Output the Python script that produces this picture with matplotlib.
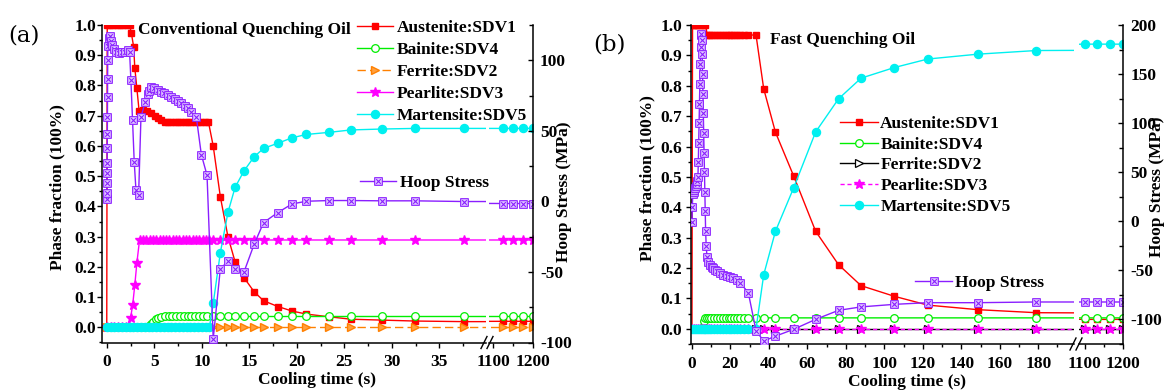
import numpy as np
import matplotlib
matplotlib.use("Agg")
import matplotlib.pyplot as plt
from matplotlib.path import Path
from matplotlib.lines import Line2D
from matplotlib.ticker import MultipleLocator, FixedLocator

plt.rcParams['font.family'] = ['Liberation Serif', 'DejaVu Serif']
plt.rcParams['font.weight'] = 'bold'
plt.rcParams['axes.labelweight'] = 'bold'
plt.rcParams['font.size'] = 12.5
plt.rcParams['axes.unicode_minus'] = False

# ===================== DATA: panel (a) Conventional Quenching Oil =====================
ta_tail = [11.2, 11.95, 12.75, 13.5, 14.45, 15.5, 16.5, 18.0, 19.5, 21.0,
           23.4, 25.7, 29.0, 32.4, 37.6, 1125, 1150, 1175, 1200]
ta_grid = [0.0, 0.4, 0.8, 1.2, 1.6, 2.0, 2.4, 2.8, 3.2, 3.6, 4.0, 4.4, 4.8, 5.2,
           5.6, 6.0, 6.4, 6.8, 7.2, 7.6, 8.0, 8.4, 8.8, 9.2, 9.6, 10.0, 10.4, 10.8]

aus_a_t = [0.0, 0.05, 0.35, 0.7, 1.05, 1.4, 1.75, 2.1, 2.4, 2.58, 2.83, 2.95, 3.17,
           3.4, 3.8, 4.25, 4.7, 5.05, 5.4, 5.75, 6.1, 6.45, 6.8, 7.15, 7.5, 7.85,
           8.2, 8.55, 8.9, 9.25, 9.6, 9.95, 10.3, 10.7]
aus_a_head = [0.0, 1.0, 1.0, 1.0, 1.0, 1.0, 1.0, 1.0, 1.0, 0.975, 0.928, 0.859, 0.79,
              0.717, 0.719, 0.716, 0.708, 0.699, 0.691, 0.686, 0.68, 0.679, 0.679, 0.679,
              0.679, 0.679, 0.679, 0.679, 0.679, 0.679, 0.679, 0.679, 0.679, 0.679]
aus_a_tail = [0.60, 0.432, 0.30, 0.217, 0.164, 0.118, 0.088, 0.069, 0.054, 0.044,
              0.035, 0.027, 0.024, 0.021, 0.019, 0.02, 0.02, 0.02, 0.02]

bai_a_t = [0.0, 0.45, 0.9, 1.35, 1.8, 2.25, 2.7, 3.15, 3.6, 4.05, 4.4, 4.65, 4.9, 5.15,
           5.4, 5.7, 6.1, 6.5, 6.9, 7.3, 7.7, 8.1, 8.5, 8.9, 9.3, 9.7, 10.1, 10.5]
bai_a_head = [0.0, 0.0, 0.0, 0.0, 0.0, 0.0, 0.0, 0.0, 0.0, 0.0, 0.003, 0.01, 0.019, 0.027,
              0.032, 0.035, 0.036, 0.036, 0.036, 0.036, 0.036, 0.036, 0.036, 0.036,
              0.036, 0.036, 0.036, 0.036]
bai_a_tail = [0.036, 0.036, 0.036, 0.036, 0.036, 0.036, 0.036, 0.036, 0.036, 0.036,
              0.036, 0.036, 0.036, 0.036, 0.036, 0.036, 0.036, 0.036, 0.036]

fer_a_head = [0.002, 0.002, 0.002, 0.002, 0.002, 0.002, 0.002, 0.002, 0.002, 0.002,
              0.002, 0.002, 0.002, 0.002, 0.002, 0.002, 0.002, 0.002, 0.002, 0.002,
              0.002, 0.002, 0.002, 0.002, 0.002, 0.002, 0.002, 0.002]
fer_a_tail = [0.002, 0.002, 0.002, 0.002, 0.002, 0.002, 0.002, 0.002, 0.002, 0.002,
              0.002, 0.002, 0.002, 0.002, 0.002, 0.002, 0.002, 0.002, 0.002]

pea_a_t = [0.0, 0.4, 0.8, 1.2, 1.6, 2.0, 2.3, 2.5, 2.73, 2.95, 3.17, 3.45, 3.8, 4.15,
           4.5, 4.85, 5.2, 5.55, 5.9, 6.25, 6.6, 6.95, 7.3, 7.65, 8.0, 8.35, 8.7, 9.05,
           9.4, 9.75, 10.1, 10.45, 10.8]
pea_a_head = [0.0, 0.0, 0.0, 0.0, 0.0, 0.0, 0.003, 0.03, 0.075, 0.14, 0.214, 0.289,
              0.289, 0.289, 0.289, 0.289, 0.289, 0.289, 0.289, 0.289, 0.289, 0.289,
              0.289, 0.289, 0.289, 0.289, 0.289, 0.289, 0.289, 0.289, 0.289, 0.289, 0.289]
pea_a_tail = [0.289, 0.289, 0.289, 0.289, 0.289, 0.289, 0.289, 0.289, 0.289, 0.289,
              0.289, 0.289, 0.289, 0.289, 0.289, 0.289, 0.289, 0.289, 0.289]

mar_a_head = [0.0, 0.0, 0.0, 0.0, 0.0, 0.0, 0.0, 0.0, 0.0, 0.0, 0.0, 0.0, 0.0, 0.0,
              0.0, 0.0, 0.0, 0.0, 0.0, 0.0, 0.0, 0.0, 0.0, 0.0, 0.0, 0.0, 0.0, 0.0]
mar_a_tail = [0.079, 0.247, 0.38, 0.463, 0.518, 0.564, 0.592, 0.609, 0.627, 0.638,
              0.645, 0.653, 0.656, 0.658, 0.658, 0.658, 0.658, 0.658, 0.658]

hoop_a_t = [0.0, 0.01, 0.02, 0.03, 0.04, 0.05, 0.06, 0.07, 0.08, 0.09, 0.1, 0.12,
            0.2, 0.3, 0.45, 0.6, 0.8, 1.0, 1.3, 1.6, 1.9, 2.2, 2.4,
            2.54, 2.71, 2.89, 3.07, 3.35, 3.6, 4.06, 4.3, 4.48, 4.66,
            5.01, 5.36, 5.72, 6.07, 6.42, 6.78, 7.13, 7.48, 7.83, 8.19, 8.54, 8.89,
            9.42, 9.95, 10.55]
hoop_a_head = [2, 6, 13, 20, 27, 38, 48, 60, 74, 87, 100, 110,
               116, 117, 114, 111, 108, 106, 105, 106, 106, 107, 106,
               86, 58, 28, 8.4, 4.3, 60, 70.6, 76, 78.2, 81.2,
               80.1, 78.9, 77.7, 76.5, 75.3, 74.1, 72.5, 71.3, 69.4, 67.5, 65.9, 63.5,
               59.9, 33.2, 18.5]
hoop_a_tail = [-97.4, -47.7, -42.5, -47.7, -49.8, -30.5, -15.0, -7.9, -1.8, 0.1,
               0.6, 0.6, 0.4, 0.4, -0.1, -1.5, -1.5, -1.5, -1.5]

# ===================== DATA: panel (b) Fast Quenching Oil =====================
tb_tail = [29.3, 33.3, 37.3, 43.4, 52.8, 64.3, 76.2, 87.9, 105.2, 122.6, 148.6, 179.0,
           1100, 1133, 1167, 1200]
tb_grid = [0.0, 1.0, 2.0, 3.0, 4.0, 5.0, 6.0, 7.0, 8.0, 9.0, 10.0, 11.5, 13.0, 14.5,
           16.0, 17.5, 19.0, 20.5, 22.0, 23.5, 25.0, 27.0]

aus_b_t = [0.0, 0.3, 1.0, 2.0, 3.0, 4.0, 5.0, 6.0, 7.0, 8.0, 9.0, 10.0, 11.5, 13.0,
           14.5, 16.0, 17.5, 19.0, 20.5, 22.0, 23.5, 25.0, 27.0]
aus_b_head = [0.0, 1.0, 1.0, 1.0, 1.0, 1.0, 1.0, 1.0, 1.0, 0.967, 0.967, 0.967, 0.967,
              0.967, 0.967, 0.967, 0.967, 0.967, 0.967, 0.967, 0.967, 0.967, 0.967]
aus_b_tail = [0.967, 0.967, 0.790, 0.647, 0.504, 0.321, 0.211, 0.142, 0.107, 0.078,
              0.063, 0.053, 0.031, 0.031, 0.031, 0.031]

bai_b_head = [0.0, 0.0, 0.0, 0.0, 0.0, 0.003, 0.025, 0.035, 0.036, 0.036, 0.036, 0.036,
              0.036, 0.036, 0.036, 0.036, 0.036, 0.036, 0.036, 0.036, 0.036, 0.036]
bai_b_tail = [0.036, 0.036, 0.036, 0.036, 0.036, 0.036, 0.036, 0.036, 0.036, 0.036,
              0.036, 0.036, 0.036, 0.036, 0.036, 0.036]

fer_b_head = [0.0, 0.0, 0.0, 0.0, 0.0, 0.0, 0.0, 0.0, 0.0, 0.0, 0.0, 0.0, 0.0, 0.0,
              0.0, 0.0, 0.0, 0.0, 0.0, 0.0, 0.0, 0.0]
fer_b_tail = [0.0, 0.0, 0.0, 0.0, 0.0, 0.0, 0.0, 0.0, 0.0, 0.0, 0.0, 0.0, 0.0, 0.0,
              0.0, 0.0]

pea_b_head = [0.0, 0.0, 0.0, 0.0, 0.0, 0.0, 0.0, 0.0, 0.0, 0.0, 0.0, 0.0, 0.0, 0.0,
              0.0, 0.0, 0.0, 0.0, 0.0, 0.0, 0.0, 0.0]
pea_b_tail = [0.0, 0.0, 0.0, 0.0, 0.0, 0.0, 0.0, 0.0, 0.0, 0.0, 0.0, 0.0, 0.0, 0.0,
              0.0, 0.0]

mar_b_head = [0.0, 0.0, 0.0, 0.0, 0.0, 0.0, 0.0, 0.0, 0.0, 0.0, 0.0, 0.0, 0.0, 0.0,
              0.0, 0.0, 0.0, 0.0, 0.0, 0.0, 0.0, 0.0]
mar_b_tail = [0.0, 0.0, 0.178, 0.321, 0.463, 0.648, 0.757, 0.825, 0.860, 0.888,
              0.904, 0.916, 0.937, 0.937, 0.937, 0.937]

hoop_b_t = [0.0, 0.2, 0.4, 0.8, 1.2, 1.6, 2.0, 2.4, 2.8,
            3.1, 3.3, 3.5, 3.7, 3.9, 4.1, 4.3, 4.5, 4.7, 4.9, 5.1, 5.3, 5.5, 5.7, 5.9,
            6.1, 6.3, 6.5, 6.7, 6.9, 7.1,
            7.4, 7.8, 8.4, 9.4, 10.3, 11.1, 12.0, 12.9, 14.6, 16.3, 18.1, 19.8, 21.5,
            23.3, 25.0]
hoop_b_head = [-1, 15, 28, 30, 32, 34, 36, 38, 41,
               45, 60, 80, 100, 120, 140, 160, 178, 190, 191, 185, 170, 150, 130, 110,
               90, 70, 50, 30, 10, -10,
               -25, -36, -41, -45, -47, -48, -50, -51, -53, -55, -56, -57, -58,
               -60, -62.5]
hoop_b_tail = [-72.7, -111.5, -122.0, -117.0, -110.1, -99.9, -90.7, -87.2, -84.6,
               -82.9, -82.9, -82.2, -82.2, -82.2, -82.2, -82.2]

labels = ['Austenite:SDV1', 'Bainite:SDV4', 'Ferrite:SDV2', 'Pearlite:SDV3',
          'Martensite:SDV5']

# ===================== STYLE =====================
RED, GREEN, ORANGE, MAGENTA, CYAN = '#FF0000', '#00EE00', '#FF8000', '#FF00FF', '#00F0F0'
PURPLE = '#8A1EFF'
box_x = Path([(-1, -1), (1, -1), (1, 1), (-1, 1), (-1, -1),
              (-0.6, -0.6), (0.6, 0.6), (-0.6, 0.6), (0.6, -0.6)],
             [Path.MOVETO, Path.LINETO, Path.LINETO, Path.LINETO, Path.CLOSEPOLY,
              Path.MOVETO, Path.LINETO, Path.MOVETO, Path.LINETO])

W, H = 1165, 390
fig = plt.figure(figsize=(W / 100, H / 100), dpi=100)


def fx(x):
    return x / W


def fy(y):
    return 1 - y / H


def add_px_axes(left, right, top, bottom):
    return fig.add_axes([fx(left), fy(bottom), (right - left) / W, (bottom - top) / H])


def setup_panel(seg1, seg2, top, bottom, xlim1, xlim2, xmaj, xmin, rlim, lpad, rpad):
    a1 = add_px_axes(seg1[0], seg1[1], top, bottom)
    a2 = add_px_axes(seg2[0], seg2[1], top, bottom)
    b1 = a1.twinx()
    b2 = a2.twinx()
    a1.set_xlim(*xlim1)
    a2.set_xlim(*xlim2)
    for a in (a1, a2):
        a.set_ylim(-0.05, 1.0)
    for b in (b1, b2):
        b.set_ylim(*rlim)
    for a in (a1, a2, b1, b2):
        for s in a.spines.values():
            s.set_visible(False)
            s.set_linewidth(1.1)
    a1.spines['left'].set_visible(True)
    a1.spines['bottom'].set_visible(True)
    a2.spines['bottom'].set_visible(True)
    b2.spines['right'].set_visible(True)

    a1.xaxis.set_major_locator(MultipleLocator(xmaj))
    a1.xaxis.set_minor_locator(MultipleLocator(xmin))
    a1.yaxis.set_major_locator(MultipleLocator(0.1))
    a1.yaxis.set_minor_locator(MultipleLocator(0.05))
    a1.tick_params(axis='x', which='both', direction='out', pad=5)
    a1.tick_params(axis='y', which='both', direction='out', pad=lpad)
    a1.tick_params(which='major', length=3.6, width=1.0)
    a1.tick_params(which='minor', length=2.2, width=1.0)

    a2.xaxis.set_major_locator(FixedLocator([1100, 1200]))
    a2.xaxis.set_minor_locator(FixedLocator([1150]))
    a2.tick_params(axis='x', which='both', direction='out', pad=5)
    a2.tick_params(which='major', length=3.6, width=1.0)
    a2.tick_params(which='minor', length=2.2, width=1.0)
    a2.tick_params(axis='y', which='both', left=False, labelleft=False,
                   right=False, labelright=False)

    b1.tick_params(axis='y', which='both', left=False, labelleft=False,
                   right=False, labelright=False)
    b2.yaxis.set_major_locator(MultipleLocator(50))
    b2.yaxis.set_minor_locator(MultipleLocator(25))
    b2.tick_params(axis='y', which='both', direction='in', pad=rpad,
                   left=False, labelleft=False)
    b2.tick_params(which='major', length=3.6, width=1.0)
    b2.tick_params(which='minor', length=2.6, width=1.0)
    return a1, a2, b1, b2


def draw(axs, t, y, **kw):
    first = None
    for ax in axs:
        ln, = ax.plot(t, y, **kw)
        if first is None:
            first = ln
    return first


def break_marks(x0, ybot):
    for dx in (0, 6):
        fig.add_artist(Line2D([fx(x0 + dx), fx(x0 + dx + 6)], [fy(ybot + 6), fy(ybot - 6)],
                              transform=fig.transFigure, color='black', lw=1.0))


# ===================== PANEL (a) =====================
a1, a2, b1, b2 = setup_panel((102, 486), (489, 533), 25, 342.5, (-0.5, 39.9), (1090, 1200),
                             5, 2.5, (-100, 125), 0.5, 5)
A = (a1, a2)
B = (b1, b2)
lw = 1.0
hA = [
    draw(A, aus_a_t + ta_tail, aus_a_head + aus_a_tail, color=RED, lw=lw, marker='s', ms=5,
         mfc=RED, mec=RED),
    draw(A, bai_a_t + ta_tail, bai_a_head + bai_a_tail, color=GREEN, lw=lw, marker='o', ms=5.5,
         mfc='white', mec=GREEN, mew=0.9),
    draw(A, ta_grid + ta_tail, fer_a_head + fer_a_tail, color=ORANGE, lw=lw, ls=(0, (6, 3)),
         marker='>', ms=5.5, mfc='#FFA040', mec=ORANGE),
    draw(A, pea_a_t + ta_tail, pea_a_head + pea_a_tail, color=MAGENTA, lw=lw, marker='*', ms=7.5,
         mfc=MAGENTA, mec=MAGENTA),
    draw(A, ta_grid + ta_tail, mar_a_head + mar_a_tail, color=CYAN, lw=lw, marker='o', ms=5.8,
         mfc=CYAN, mec=CYAN),
]
hoopA = draw(B, hoop_a_t + ta_tail, hoop_a_head + hoop_a_tail, color=PURPLE, lw=lw,
             marker=box_x, ms=5.5, mfc='#E2CCFF', mec=PURPLE, mew=0.8)

a1.set_ylabel('Phase fraction (100%)', va='center')
a1.yaxis.set_label_coords(fx(57), fy(187), transform=fig.transFigure)
a1.set_xlabel('Cooling time (s)', va='center')
a1.xaxis.set_label_coords(fx(317.5), fy(380), transform=fig.transFigure)
b2.set_ylabel('Hoop Stress (MPa)', va='center')
b2.yaxis.set_label_coords(fx(564), fy(192), transform=fig.transFigure)

b2.legend(hA, labels, loc='center left', bbox_to_anchor=(fx(356.7), fy(71.8)),
          bbox_transform=fig.transFigure, frameon=False, borderpad=0, borderaxespad=0,
          handlelength=2.1, handletextpad=0.23, labelspacing=0.33, fontsize=12.5)
b1.legend([hoopA], ['Hoop Stress'], loc='center left', bbox_to_anchor=(fx(360), fy(182.7)),
          bbox_transform=fig.transFigure, frameon=False, borderpad=0, borderaxespad=0,
          handlelength=2.1, handletextpad=0.2, fontsize=12.5)

fig.text(fx(138), fy(33.5), 'Conventional Quenching Oil', ha='left', va='baseline', fontsize=12.5)
fig.text(fx(8), fy(41.7), '(a)', ha='left', va='baseline', fontsize=16.5,
         family='DejaVu Serif', weight='normal')
break_marks(481, 342.5)

# ===================== PANEL (b) =====================
c1, c2, d1, d2 = setup_panel((691, 1074), (1079, 1123), 25, 344, (-0.5, 198.6), (1085, 1200),
                             20, 10, (-125, 200), 3, 5.3)
C = (c1, c2)
D = (d1, d2)
hB = [
    draw(C, aus_b_t + tb_tail, aus_b_head + aus_b_tail, color=RED, lw=lw, marker='s', ms=5,
         mfc=RED, mec=RED),
    draw(C, tb_grid + tb_tail, bai_b_head + bai_b_tail, color=GREEN, lw=lw, marker='o', ms=5.5,
         mfc='white', mec=GREEN, mew=0.9),
    draw(C, tb_grid + tb_tail, fer_b_head + fer_b_tail, color='black', lw=lw,
         marker='>', ms=5.5, mfc='white', mec='black', mew=0.9),
    draw(C, tb_grid + tb_tail, pea_b_head + pea_b_tail, color=MAGENTA, lw=lw, ls=(0, (3, 2)),
         marker='*', ms=7.5, mfc=MAGENTA, mec=MAGENTA),
    draw(C, tb_grid + tb_tail, mar_b_head + mar_b_tail, color=CYAN, lw=lw, marker='o', ms=5.8,
         mfc=CYAN, mec=CYAN),
]
hoopB = draw(D, hoop_b_t + tb_tail, hoop_b_head + hoop_b_tail, color=PURPLE, lw=lw,
             marker=box_x, ms=5.5, mfc='#E2CCFF', mec=PURPLE, mew=0.8)

c1.set_ylabel('Phase fraction (100%)', va='center')
c1.yaxis.set_label_coords(fx(647), fy(178.5), transform=fig.transFigure)
c1.set_xlabel('Cooling time (s)', va='center')
c1.xaxis.set_label_coords(fx(907), fy(382), transform=fig.transFigure)
d2.set_ylabel('Hoop Stress (MPa)', va='center')
d2.yaxis.set_label_coords(fx(1157), fy(187), transform=fig.transFigure)

d2.legend(hB, labels, loc='center left', bbox_to_anchor=(fx(840), fy(165.3)),
          bbox_transform=fig.transFigure, frameon=False, borderpad=0, borderaxespad=0,
          handlelength=2.2, handletextpad=0.12, labelspacing=0.26, fontsize=12.5)
d1.legend([hoopB], ['Hoop Stress'], loc='center left', bbox_to_anchor=(fx(915), fy(282.7)),
          bbox_transform=fig.transFigure, frameon=False, borderpad=0, borderaxespad=0,
          handlelength=2.15, handletextpad=0.17, fontsize=12.5)

fig.text(fx(770), fy(44.3), 'Fast Quenching Oil', ha='left', va='baseline', fontsize=12.5)
fig.text(fx(593), fy(50), '(b)', ha='left', va='baseline', fontsize=16.5,
         family='DejaVu Serif', weight='normal')
break_marks(1070, 344)

fig.savefig('out.png', dpi=100)
